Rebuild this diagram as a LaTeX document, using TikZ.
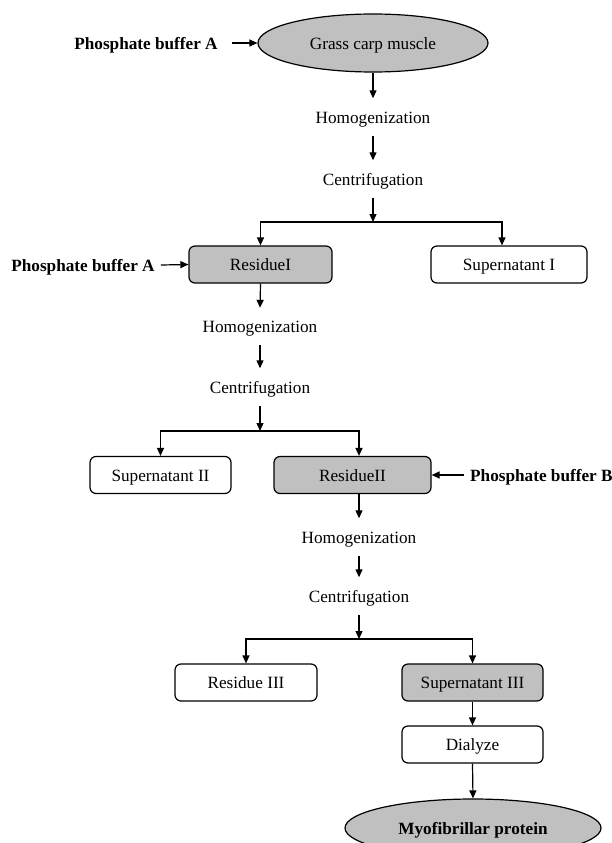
\documentclass[tikz,border=0pt]{standalone}
\usepackage{fontspec}
\setmainfont{Liberation Serif}
\usetikzlibrary{arrows.meta,shapes.geometric,calc}
\definecolor{boxgray}{RGB}{192,192,192}
\begin{document}
\begin{tikzpicture}[x=1pt,y=-1pt,
 every node/.style={font=\fontsize{17.2}{20}\selectfont, text height=14pt, text depth=2pt},
 box/.style={draw, rounded corners=6pt, line width=1.2pt, minimum height=37pt, inner sep=0pt},
 gbox/.style={box, fill=boxgray},
 proc/.style={inner xsep=0pt, inner ysep=10.5pt},
 lab/.style={font=\fontsize{17.2}{20}\selectfont\bfseries, inner xsep=6pt, inner ysep=0pt},
 ell/.style={ellipse, draw, fill=boxgray, line width=1.2pt, inner sep=0pt, minimum height=58pt},
 arr/.style={-{Triangle[length=8pt,width=7pt]}, line width=1.2pt}]
\useasboundingbox (0,0) rectangle (611,843);

\node[ell, minimum width=230pt] (e1) at (373,43) {Grass carp muscle};
\node[lab] (pa1) at (146,43) {Phosphate buffer A};
\node[proc] (h1) at (373,117) {Homogenization};
\node[proc] (c1) at (373,179) {Centrifugation};
\coordinate (j1) at (373,222);
\node[gbox, minimum width=143pt] (r1) at (260.5,264.5) {ResidueI};
\node[box, minimum width=156pt] (s1) at (509,264.5) {Supernatant I};
\node[lab] (pa2) at (83,265) {Phosphate buffer A};
\node[proc] (h2) at (260,326.5) {Homogenization};
\node[proc] (c2) at (260,387) {Centrifugation};
\coordinate (j2) at (260,431);
\node[box, minimum width=141pt] (s2) at (160.5,475) {Supernatant II};
\node[gbox, minimum width=157pt] (r2) at (352.5,475) {ResidueII};
\node[lab, anchor=west] (pb) at (464,475) {Phosphate buffer B};
\node[proc] (h3) at (359,537) {Homogenization};
\node[proc] (c3) at (359,596) {Centrifugation};
\coordinate (j3) at (359,639);
\node[box, minimum width=142pt] (r3) at (246,682.5) {Residue III};
\node[gbox, minimum width=141pt] (s3) at (472.5,682.5) {Supernatant III};
\node[box, minimum width=141pt] (d) at (472.5,744.5) {Dialyze};
\node[ell, minimum width=256pt, font=\fontsize{17.2}{20}\selectfont\bfseries] (e2) at (473,828) {Myofibrillar protein};

\draw[arr, shorten <=8pt] (pa1.east) -- (e1.west);
\draw[arr] (e1.south) -- (h1.north);
\draw[arr] (h1.south) -- (c1.north);
\draw[arr] (c1.south) -- (j1);
\draw[arr] (j1) -| (r1.north);
\draw[arr] (j1) -| ($(s1.north)+(-7,0)$);
\draw[arr] (pa2.east) -- (r1.west);
\draw[arr] (r1.south) -- (h2.north);
\draw[arr] (h2.south) -- (c2.north);
\draw[arr] (c2.south) -- (j2);
\draw[arr] (j2) -| (s2.north);
\draw[arr] (j2) -| ($(r2.north)+(6.5,0)$);
\draw[arr] (pb.west) -- (r2.east);
\draw[arr] ($(r2.south)+(6.5,0)$) -- (h3.north);
\draw[arr] (h3.south) -- (c3.north);
\draw[arr] (c3.south) -- (j3);
\draw[arr] (j3) -| (r3.north);
\draw[arr] (j3) -| (s3.north);
\draw[arr] (s3.south) -- (d.north);
\draw[arr] (d.south) -- (e2.north);
\end{tikzpicture}
\end{document}
